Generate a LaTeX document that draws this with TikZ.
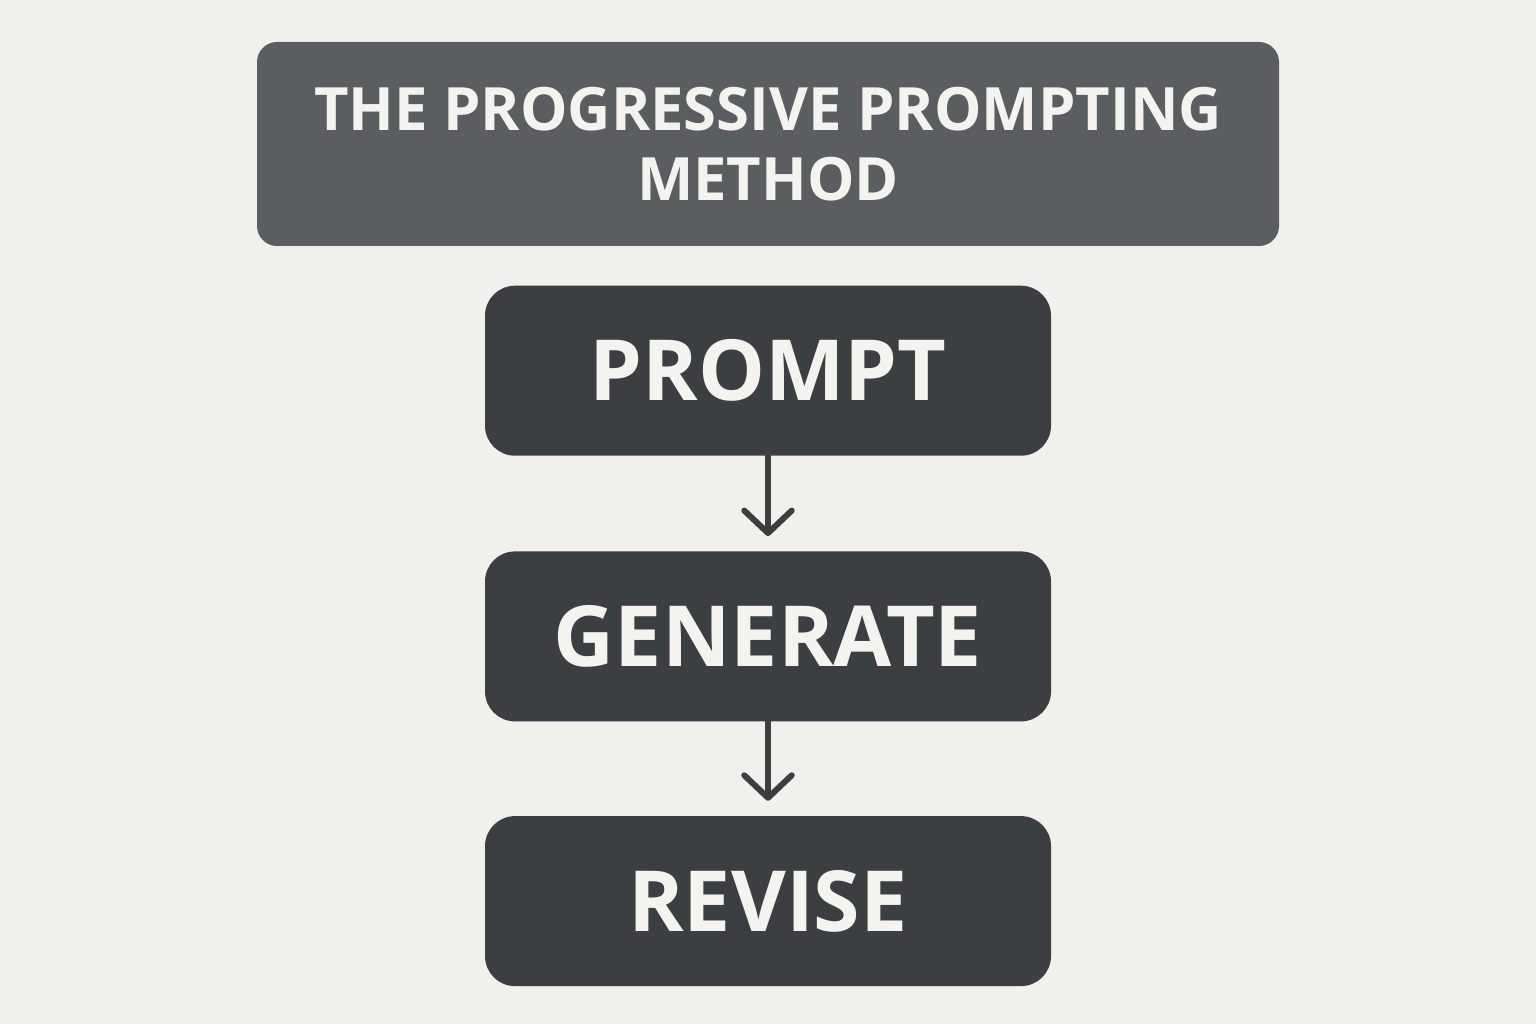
\documentclass[tikz,border=0pt]{standalone}
\usepackage{fontspec}
\setmainfont{Open Sans}
\usetikzlibrary{positioning,arrows.meta}
\definecolor{paper}{HTML}{F1F0ED}
\definecolor{titlegrey}{HTML}{5A5E60}
\definecolor{boxgrey}{HTML}{3C3F41}
\definecolor{inkwhite}{HTML}{F4F3EF}
\begin{document}
\begin{tikzpicture}[
  titlebox/.style={rectangle, rounded corners=0.4cm, fill=titlegrey, text=inkwhite,
    minimum width=20.44cm, minimum height=4.08cm, align=center,
    font=\fontsize{34}{40}\selectfont\bfseries},
  stepbox/.style={rectangle, rounded corners=0.6cm, fill=boxgrey, text=inkwhite,
    minimum width=11.32cm, minimum height=3.4cm,
    font=\fontsize{48}{56}\selectfont\bfseries},
  flow/.style={draw=boxgrey, line width=3.4pt, line cap=round,
    -{Straight Barb[length=0.45cm, width=0.95cm, round]}, shorten >=0.3cm}
  ]
  \fill[paper] (0,0) rectangle (30.72,20.48);
  \useasboundingbox (0,0) rectangle (30.72,20.48);
  \node[titlebox] (title) at (15.36,17.6) {THE PROGRESSIVE PROMPTING\\METHOD};
  \node[stepbox, below=0.78cm of title] (prompt) {PROMPT};
  \node[stepbox, below=1.9cm of prompt] (generate) {GENERATE};
  \node[stepbox, below=1.88cm of generate] (revise) {REVISE};
  \draw[flow] (prompt) -- (generate);
  \draw[flow] (generate) -- (revise);
\end{tikzpicture}
\end{document}
